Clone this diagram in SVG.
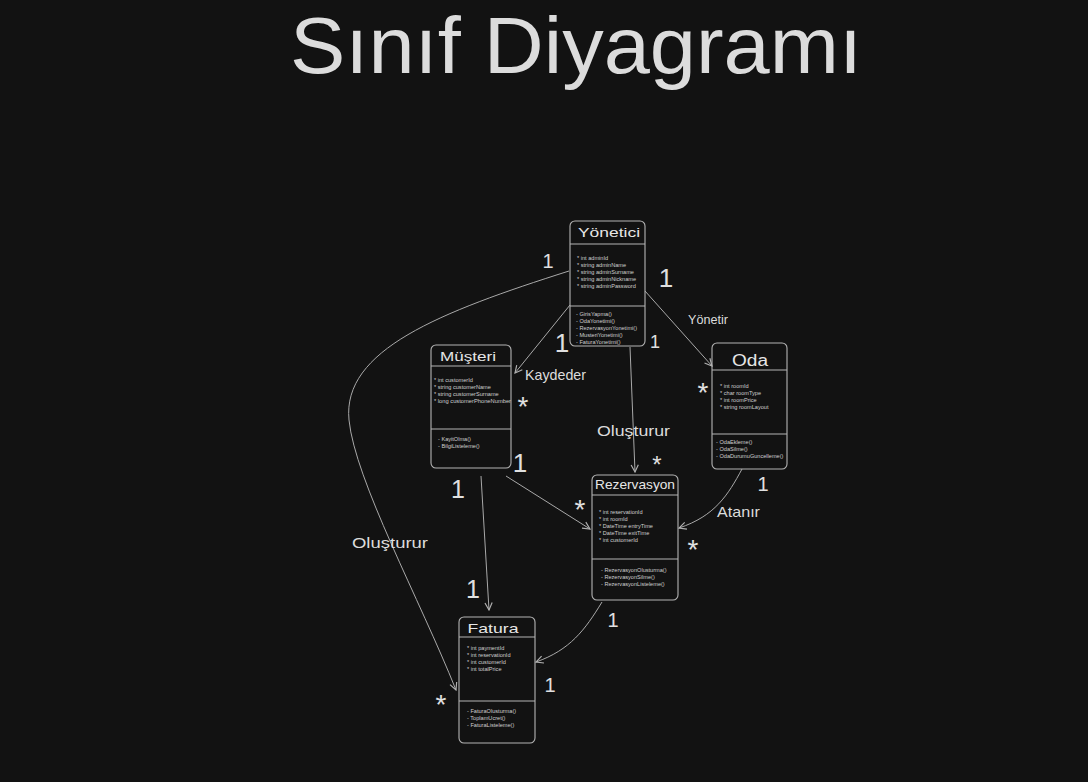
<svg xmlns="http://www.w3.org/2000/svg" width="1088" height="782" viewBox="0 0 1088 782">
<style>
text{font-family:"Liberation Sans","DejaVu Sans",sans-serif;fill:#dcdcdc}
.box{fill:none;stroke:#b4b4b4;stroke-width:1.1}
.div{stroke:#b4b4b4;stroke-width:1}
.ttl{text-anchor:middle;font-size:13px;fill:#e6e6e6}
.at{font-size:5.6px;fill:#cfcfcf}
.con{fill:none;stroke:#a9a9a9;stroke-width:1}
.lbl{font-size:15px;fill:#dcdcdc}
.m{text-anchor:middle;fill:#e0e0e0}
</style>
<defs>
<marker id="ah" viewBox="0 0 10 10" refX="9" refY="5" markerWidth="9" markerHeight="9" markerUnits="userSpaceOnUse" orient="auto">
<path d="M1,1 L9,5 L1,9" fill="none" stroke="#b0b0b0" stroke-width="1.3"/>
</marker>
</defs>
<rect width="1088" height="782" fill="#121212"/>
<text x="576" y="73" text-anchor="middle" font-size="80" textLength="572" lengthAdjust="spacingAndGlyphs" fill="#d6d6d6">Sınıf Diyagramı</text>

<g id="connectors">
<path class="con" d="M570,305 L515,373" marker-end="url(#ah)"/>
<path class="con" d="M645,291 L712,366" marker-end="url(#ah)"/>
<path class="con" d="M630,347 L635,472" marker-end="url(#ah)"/>
<path class="con" d="M569,271 C440,312 342,350 349,420 C355,480 420,600 456,690" marker-end="url(#ah)"/>
<path class="con" d="M506,476 L590,529" marker-end="url(#ah)"/>
<path class="con" d="M481,476 L489,610" marker-end="url(#ah)"/>
<path class="con" d="M742,469 C728,495 715,516 679,528" marker-end="url(#ah)"/>
<path class="con" d="M602,602 C585,630 570,650 536,662" marker-end="url(#ah)"/>
<text class="lbl" x="525" y="380" textLength="61" lengthAdjust="spacingAndGlyphs">Kaydeder</text>
<text class="lbl" x="688" y="324" textLength="40" lengthAdjust="spacingAndGlyphs" style="font-size:12px">Yönetir</text>
<text class="lbl" x="597" y="436" textLength="73" lengthAdjust="spacingAndGlyphs">Oluşturur</text>
<text class="lbl" x="352" y="548" textLength="76" lengthAdjust="spacingAndGlyphs">Oluşturur</text>
<text class="lbl" x="717" y="517" textLength="43" lengthAdjust="spacingAndGlyphs">Atanır</text>
<text class="m" x="548" y="268" font-size="20">1</text>
<text class="m" x="666" y="287" font-size="26">1</text>
<text class="m" x="562" y="352" font-size="26">1</text>
<text class="m" x="655" y="348" font-size="18">1</text>
<text class="m" x="520" y="472" font-size="26">1</text>
<text class="m" x="458" y="498" font-size="25">1</text>
<text class="m" x="473" y="598" font-size="25">1</text>
<text class="m" x="763" y="491" font-size="20">1</text>
<text class="m" x="613" y="627" font-size="20">1</text>
<text class="m" x="550" y="692" font-size="20">1</text>
<text class="m" x="703" y="402" font-size="28">*</text>
<text class="m" x="657" y="473" font-size="24">*</text>
<text class="m" x="523" y="416" font-size="28">*</text>
<text class="m" x="580" y="519" font-size="28">*</text>
<text class="m" x="693" y="559" font-size="28">*</text>
<text class="m" x="441" y="714" font-size="28">*</text>
</g>

<g id="yonetici">
<rect class="box" x="570" y="221" width="75" height="125" rx="5"/>
<line class="div" x1="570" y1="244" x2="645" y2="244"/>
<line class="div" x1="570" y1="306" x2="645" y2="306"/>
<text class="ttl" x="609" y="237" textLength="62" lengthAdjust="spacingAndGlyphs">Yönetici</text>
<text class="at" x="577" y="260">* int adminId</text>
<text class="at" x="577" y="267">* string adminName</text>
<text class="at" x="577" y="274">* string adminSurname</text>
<text class="at" x="577" y="281">* string adminNickname</text>
<text class="at" x="577" y="288">* string adminPassword</text>
<text class="at" x="576" y="316">- GirisYapma()</text>
<text class="at" x="576" y="323">- OdaYonetimi()</text>
<text class="at" x="576" y="330">- RezervasyonYonetimi()</text>
<text class="at" x="576" y="337">- MusteriYonetimi()</text>
<text class="at" x="576" y="344">- FaturaYonetimi()</text>
</g>

<g id="musteri">
<rect class="box" x="431" y="345" width="80" height="123" rx="5"/>
<line class="div" x1="431" y1="366" x2="511" y2="366"/>
<line class="div" x1="431" y1="429" x2="511" y2="429"/>
<text class="ttl" x="468" y="361" textLength="56" lengthAdjust="spacingAndGlyphs">Müşteri</text>
<text class="at" x="434" y="382">* int customerId</text>
<text class="at" x="434" y="389">* string customerName</text>
<text class="at" x="434" y="396">* string customerSurname</text>
<text class="at" x="434" y="403" textLength="77" lengthAdjust="spacingAndGlyphs">* long customerPhoneNumber</text>
<text class="at" x="438" y="441">- KayitOlma()</text>
<text class="at" x="438" y="448">- BilgiListeleme()</text>
</g>

<g id="oda">
<rect class="box" x="712" y="343" width="75" height="126" rx="5"/>
<line class="div" x1="712" y1="370" x2="787" y2="370"/>
<line class="div" x1="712" y1="434" x2="787" y2="434"/>
<text class="ttl" x="750" y="366" textLength="36" lengthAdjust="spacingAndGlyphs" style="font-size:16px">Oda</text>
<text class="at" x="720" y="388">* int roomId</text>
<text class="at" x="720" y="395">* char roomType</text>
<text class="at" x="720" y="402">* int roomPrice</text>
<text class="at" x="720" y="409">* string roomLayout</text>
<text class="at" x="716" y="444">- OdaEkleme()</text>
<text class="at" x="716" y="451">- OdaSilme()</text>
<text class="at" x="716" y="458">- OdaDurumuGuncelleme()</text>
</g>

<g id="rezervasyon">
<rect class="box" x="592" y="475" width="86" height="125" rx="5"/>
<line class="div" x1="592" y1="495" x2="678" y2="495"/>
<line class="div" x1="592" y1="559" x2="678" y2="559"/>
<text class="ttl" x="635" y="489" textLength="80" lengthAdjust="spacingAndGlyphs">Rezervasyon</text>
<text class="at" x="599" y="514">* int reservationId</text>
<text class="at" x="599" y="521">* int roomId</text>
<text class="at" x="599" y="528">* DateTime entryTime</text>
<text class="at" x="599" y="535">* DateTime exitTime</text>
<text class="at" x="599" y="542">* int customerId</text>
<text class="at" x="601" y="572">- RezervasyonOlusturma()</text>
<text class="at" x="601" y="579">- RezervasyonSilme()</text>
<text class="at" x="601" y="586">- RezervasyonListeleme()</text>
</g>

<g id="fatura">
<rect class="box" x="459" y="617" width="76" height="126" rx="5"/>
<line class="div" x1="459" y1="637" x2="535" y2="637"/>
<line class="div" x1="459" y1="701" x2="535" y2="701"/>
<text class="ttl" x="493" y="633" textLength="51" lengthAdjust="spacingAndGlyphs">Fatura</text>
<text class="at" x="467" y="650">* int paymentId</text>
<text class="at" x="467" y="657">* int  reservationId</text>
<text class="at" x="467" y="664">* int customerId</text>
<text class="at" x="467" y="671">* int totalPrice</text>
<text class="at" x="467" y="713">- FaturaOlusturma()</text>
<text class="at" x="467" y="720">- ToplamUcret()</text>
<text class="at" x="467" y="727">- FaturaListeleme()</text>
</g>
</svg>
